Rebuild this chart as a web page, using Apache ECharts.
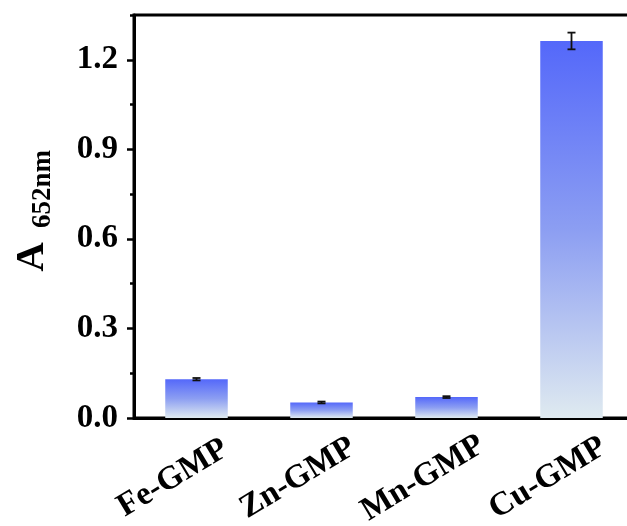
<!DOCTYPE html>
<html>
<head>
<meta charset="utf-8">
<script src="https://cdn.jsdelivr.net/npm/echarts@6/dist/echarts.min.js"></script>
<style>
  html, body { margin: 0; padding: 0; background: #fff; }
  #main { width: 627px; height: 526px; }
</style>
</head>
<body>
<div id="main"></div>
<script>
// samples on the x axis
var categories = ['Fe-GMP', 'Zn-GMP', 'Mn-GMP', 'Cu-GMP'];
// absorbance at 652 nm and its error
var absValues = [0.130, 0.052, 0.070, 1.263];
var absErrors = [0.004, 0.003, 0.003, 0.028];

var serif = "'Liberation Serif', 'Times New Roman', serif";
var chart = echarts.init(document.getElementById('main'), null, { renderer: 'canvas' });

var barColor = new echarts.graphic.LinearGradient(0, 0, 0, 1, [
  { offset: 0, color: '#5468fa' },
  { offset: 0.5, color: '#8c9ef2' },
  { offset: 1, color: '#dfeaf0' }
]);

var errData = absValues.map(function (v, i) {
  return [i, v - absErrors[i], v + absErrors[i]];
});

var option = {
  backgroundColor: '#fff',
  animation: false,
  grid: {
    left: 134, top: 15, width: 500, height: 403,
    outerBoundsMode: 'none',
    containLabel: false,
    show: true, borderColor: '#000', borderWidth: 3
  },
  xAxis: [{
    type: 'category',
    data: categories,
    position: 'bottom',
    axisLine: { onZero: false, lineStyle: { color: '#000', width: 3 } },
    axisTick: { alignWithLabel: true, length: 8, lineStyle: { color: '#000', width: 2.5 } },
    axisLabel: {
      rotate: 31,
      align: 'center',
      verticalAlign: 'middle',
      margin: 46,
      hideOverlap: false,
      interval: 0,
      formatter: function (v) { return '{t|' + v + '}{s| }'; },
      rich: {
        t: { fontFamily: serif, fontWeight: 'bold', fontSize: 33, color: '#000' },
        s: { width: 55, fontSize: 33 }
      }
    }
  }, {
    type: 'category',
    data: categories,
    position: 'bottom',
    axisLine: { show: false, onZero: false },
    axisTick: { length: 4, lineStyle: { color: '#000', width: 2.5 } },
    axisLabel: { show: false }
  }],
  yAxis: [{
    type: 'value',
    min: 0, max: 1.35, interval: 0.3,
    position: 'left',
    axisLine: { show: true, lineStyle: { color: '#000', width: 3 } },
    axisTick: { show: true, length: 7, lineStyle: { color: '#000', width: 2.5 } },
    splitLine: { show: false },
    axisLabel: {
      margin: 16,
      showMaxLabel: false,
      fontFamily: serif, fontWeight: 'bold', fontSize: 33, color: '#000',
      formatter: function (v) { return v.toFixed(1); }
    }
  }, {
    type: 'value',
    min: 0, max: 1.35, interval: 0.15,
    position: 'left',
    offset: 0,
    axisLine: { show: false },
    axisTick: { show: true, length: 4, lineStyle: { color: '#000', width: 2.5 } },
    splitLine: { show: false },
    axisLabel: { show: false }
  }],
  graphic: [{
    type: 'text',
    x: 32, y: 257,
    rotation: Math.PI / 2,
    style: {
      text: 'A', fontFamily: serif, fontWeight: 'bold', fontSize: 41,
      fill: '#000', align: 'center', verticalAlign: 'middle'
    }
  }, {
    type: 'text',
    x: 43, y: 189,
    rotation: Math.PI / 2,
    style: {
      text: '652nm', fontFamily: serif, fontWeight: 'bold', fontSize: 27,
      fill: '#000', align: 'center', verticalAlign: 'middle'
    }
  }],
  series: [{
    type: 'bar',
    xAxisIndex: 0, yAxisIndex: 0,
    data: absValues,
    barWidth: '50%',
    itemStyle: { color: barColor }
  }, {
    type: 'custom',
    xAxisIndex: 0, yAxisIndex: 0,
    data: errData,
    z: 10,
    renderItem: function (params, api) {
      var x = api.value(0);
      var lo = api.coord([x, api.value(1)]);
      var hi = api.coord([x, api.value(2)]);
      var half = 4;
      var st = { stroke: '#111', lineWidth: 1.8 };
      return {
        type: 'group',
        children: [
          { type: 'line', shape: { x1: lo[0], y1: lo[1], x2: hi[0], y2: hi[1] }, style: st },
          { type: 'line', shape: { x1: hi[0] - half, y1: hi[1], x2: hi[0] + half, y2: hi[1] }, style: st },
          { type: 'line', shape: { x1: lo[0] - half, y1: lo[1], x2: lo[0] + half, y2: lo[1] }, style: st }
        ]
      };
    }
  }]
};

chart.setOption(option);
</script>
</body>
</html>
